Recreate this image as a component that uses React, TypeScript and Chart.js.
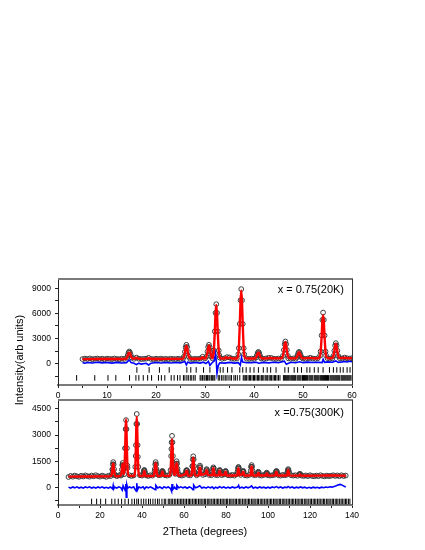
import React, { useEffect, useRef } from "react";
import { Chart, registerables } from "chart.js";

Chart.register(...registerables);

const FAMILY = "'Liberation Sans', Arial, Helvetica, sans-serif";

// ---------------- shared axis titles ----------------
const xTitle = "2Theta (degrees)";
const yTitle = "Intensity(arb units)";

type Pt = [number, number];

// ---------------- top panel : x = 0.75 (20 K) ----------------
const topLabel = "x = 0.75(20K)";
const topXRange = [0, 60];
const topYRange = [-2550, 10100];
const topXMajor = [0, 10, 20, 30, 40, 50, 60];
const topXMinor = [5, 15, 25, 35, 45, 55];
const topYMajor = [0, 3000, 6000, 9000];
const topYMinor = [-1500, 1500, 4500, 7500];

// observed intensities on a 0.5 deg grid starting at 5 deg (null = covered by peak points)
const topObsStart = 5;
const topObsStep = 0.5;
const topObsGrid: (number | null)[] = [
  540, 600, 560, 620, 530, 580, 610, 550, 590, 520,
  600, 570, 540, 610, 560, 530, 590, 560, null, null,
  null, 580, 720, 590, 550, 570, 600, 690, 560, 530,
  580, 550, 600, 540, 570, 530, 590, 560, 540, 580,
  550, 600, null, null, 570, 540, 580, 560, 610, 820,
  620, null, null, 640, null, null, 720, 580, 640, 780,
  740, 600, 570, 610, null, null, null, 590, 560, 600,
  570, null, null, 600, 570, 620, 700, 680, 590, 560,
  610, 580, null, null, 640, 590, 620, 580, null, null,
  610, 580, 620, 700, 610, 580, 640, null, null, null,
  660, 610, 640, null, null, 650, 620, 720, 640, 610,
  650,
];
// observed points across the Bragg peaks
const topObsPeaks: Pt[] = [
  [14.05, 730], [14.25, 1025], [14.4, 1315], [14.55, 1450], [14.7, 1310], [14.85, 1020], [15.05, 720],
  [25.7, 830], [25.9, 1415], [26.05, 1960], [26.2, 2250], [26.35, 1990], [26.5, 1400], [26.7, 830],
  [30.3, 848], [30.5, 1425], [30.65, 1986], [30.8, 2250], [30.95, 1970], [31.1, 1425], [31.3, 848],
  [31.7, 1010], [31.8, 1575], [32.0, 3850], [32.15, 6060], [32.3, 7100], [32.45, 6060], [32.6, 3850], [32.8, 1575], [32.9, 1010],
  [36.8, 1120], [36.9, 1845], [37.1, 4750], [37.25, 7570], [37.4, 8900], [37.55, 7570], [37.7, 4750], [37.9, 1845], [38.0, 1120],
  [40.4, 720], [40.6, 1000], [40.75, 1270], [40.9, 1400], [41.05, 1270], [41.2, 1000], [41.4, 720],
  [45.9, 925], [46.1, 1635], [46.25, 2325], [46.4, 2650], [46.55, 2325], [46.7, 1635], [46.9, 925],
  [48.7, 737], [48.9, 1010], [49.05, 1275], [49.2, 1400], [49.35, 1275], [49.5, 1010], [49.7, 737],
  [53.5, 985], [53.6, 1460], [53.8, 3370], [53.95, 5225], [54.1, 6100], [54.25, 5225], [54.4, 3370], [54.6, 1460], [54.7, 985],
  [56.2, 910], [56.4, 1545], [56.55, 2160], [56.7, 2450], [56.85, 2160], [57.0, 1545], [57.2, 910],
];
// calculated profile
const topCalc: Pt[] = [
  [5, 540], [6, 545], [8, 550], [10, 550], [12, 555], [13.5, 560],
  [14.05, 690], [14.25, 980], [14.4, 1230], [14.55, 1320], [14.7, 1230], [14.85, 980], [15.05, 690],
  [15.5, 580], [15.8, 640], [16.0, 700], [16.2, 640], [16.6, 570], [18.2, 580], [18.5, 680], [18.8, 580],
  [20, 560], [22, 565], [24, 570], [25.4, 575],
  [25.7, 800], [25.9, 1360], [26.05, 1900], [26.2, 2150], [26.35, 1900], [26.5, 1360], [26.7, 800],
  [27.2, 580], [29.2, 590], [29.5, 780], [29.8, 600], [30.1, 600],
  [30.3, 830], [30.5, 1380], [30.65, 1920], [30.8, 2170], [30.95, 1920], [31.1, 1380], [31.3, 830],
  [31.55, 650], [31.7, 1000], [31.8, 1560], [32.0, 3800], [32.15, 5950], [32.3, 7000], [32.45, 5950], [32.6, 3800], [32.8, 1560], [32.9, 1000],
  [33.2, 640], [34.0, 620], [34.3, 760], [34.6, 640], [35.2, 720], [35.5, 620], [36.5, 610],
  [36.8, 1110], [36.9, 1820], [37.1, 4700], [37.25, 7450], [37.4, 8750], [37.55, 7450], [37.7, 4700], [37.9, 1820], [38.0, 1110],
  [38.3, 640], [40.2, 620],
  [40.4, 720], [40.6, 980], [40.75, 1230], [40.9, 1330], [41.05, 1230], [41.2, 980], [41.4, 720],
  [41.8, 620], [43.0, 660], [43.3, 720], [43.6, 640], [45.6, 630],
  [45.9, 910], [46.1, 1600], [46.25, 2260], [46.4, 2580], [46.55, 2260], [46.7, 1600], [46.9, 910],
  [47.3, 640], [48.4, 630],
  [48.7, 730], [48.9, 990], [49.05, 1240], [49.2, 1360], [49.35, 1240], [49.5, 990], [49.7, 730],
  [50.1, 630], [51.6, 690], [52.2, 640], [53.2, 650],
  [53.5, 960], [53.6, 1400], [53.8, 3220], [53.95, 4990], [54.1, 5800], [54.25, 4990], [54.4, 3220], [54.6, 1400], [54.7, 960],
  [55.0, 680], [55.9, 650],
  [56.2, 900], [56.4, 1510], [56.55, 2100], [56.7, 2380], [56.85, 2100], [57.0, 1510], [57.2, 900],
  [57.6, 660], [58.6, 700], [59.2, 650], [60, 660],
];
// difference curve (obs - calc)
const topDiff: Pt[] = [
  [5, 100], [5.5, 60], [6, 140], [7, 80], [8, 160], [9, 90], [10, 130], [11, 60], [12, 150], [13, 80], [14, 120],
  [14.4, 380], [14.6, 420], [14.9, 120], [15.5, 40], [16, -120], [16.5, 60], [17, -60], [18, 40], [18.5, -150], [19, 60],
  [20, 130], [21, 70], [22, 140], [23, 80], [24, 130], [25, 90], [25.9, 250], [26.2, -150], [26.5, 200], [27, 60],
  [28, 130], [29, 70], [29.6, 180], [30.2, 20], [30.7, 280], [31, -200], [31.4, 80], [31.9, 350], [32.15, 1150],
  [32.3, 300], [32.45, -1150], [32.7, -250], [33, 100], [34, 60], [35, 150], [36, 60], [36.8, 120], [37.2, -200],
  [37.45, 750], [37.7, 180], [38.5, 100], [39.5, 120], [40.5, 160], [41, 50], [42, 150], [43, 90], [44, 170],
  [45, 110], [46.2, 300], [46.6, -80], [47.5, 160], [48.5, 110], [49.3, 230], [50, 120], [51, 180], [52, 130],
  [53, 170], [53.9, 120], [54.1, 520], [54.4, 150], [55, 210], [56, 170], [56.7, 330], [57.2, 150], [58, 210],
  [58.5, 260], [59, 200], [59.5, 280], [60, 230],
];
// Bragg reflection positions (two phases)
const topBraggA = [
  16.1, 18.6, 20.7, 22.7, 26.3, 27.1, 28.2, 29.7, 31.0, 32.4, 33.1, 33.7, 34.6, 35.5, 37.1, 37.7, 38.4,
  39.2, 40.0, 40.9, 41.9, 42.7, 43.4, 44.5, 46.3, 47.0, 48.2, 48.9, 49.7, 50.8, 51.4, 52.3, 53.1, 54.1,
  55.4, 56.2, 56.9, 57.6, 58.2, 59.0, 59.6,
];
const topBraggB = [
  3.8, 7.5, 10.2, 11.8, 14.6, 15.9, 16.5, 17.4, 18.3, 19.1, 20.5, 21.1, 21.8, 23.1, 23.7, 24.4, 24.9,
  25.6, 25.9, 26.3, 26.6, 27.0, 27.3, 27.7, 28.0, 29.0, 29.2, 29.5, 29.8, 30.0, 30.3, 30.5, 30.8, 31.0,
  31.3, 31.5, 31.8, 32.0, 32.7, 33.0, 33.4, 33.7, 34.1, 34.3, 34.7, 35.1, 35.4, 35.9, 36.2, 36.6, 37.1,
  37.8, 38.0, 38.3, 38.5, 38.8, 39.1, 39.3, 39.6, 39.9, 40.1, 40.4, 40.7, 40.9, 41.2, 41.5, 41.7, 42.0,
  42.3, 42.6, 42.8, 43.1, 43.4, 43.6, 43.9, 44.2, 44.4, 44.7, 45.0, 45.3, 46.0, 46.2, 46.4, 46.6, 46.8,
  47.0, 47.2, 47.5, 47.7, 47.9, 48.1, 48.3, 48.5, 48.8, 49.0, 49.2, 49.4, 49.6, 49.9, 50.1, 50.3, 50.5,
  50.7, 50.9, 51.2, 51.4, 51.6, 51.8, 52.0, 52.3, 52.5, 52.7, 52.9, 53.1, 53.3, 53.6, 53.8, 54.0, 54.2,
  54.4, 54.6, 54.8, 55.0, 55.2, 55.5, 55.7, 55.9, 56.1, 56.3, 56.5, 56.7, 56.9, 57.1, 57.3, 57.5, 57.8,
  58.0, 58.2, 58.4, 58.6, 58.8, 59.0, 59.2, 59.4, 59.6, 59.8,
];
const topBraggALevel = -750;
const topBraggBLevel = -1700;

// ---------------- bottom panel : x = 0.75 (300 K) ----------------
const botLabel = "x =0.75(300K)";
const botXRange = [0, 140];
const botYRange = [-1000, 5000];
const botXMajor = [0, 20, 40, 60, 80, 100, 120, 140];
const botXMinor = [10, 30, 50, 70, 90, 110, 130];
const botYMajor = [0, 1500, 3000, 4500];
const botYMinor = [-750, 750, 2250, 3750];

// observed intensities on a 1 deg grid starting at 5 deg
const botObsStart = 5;
const botObsStep = 1;
const botObsGrid: (number | null)[] = [
  600, 660, 620, 680, 640, 610, 670, 630, 690, 650, // 5-14
  620, 680, 640, 700, 650, 620, 680, 640, 610, 670, // 15-24
  650, 1000, 700, 650, 690, 680, 1250, 2245, 1250, 700, // 25-34
  660, 690, 1800, 1750, 700, 680, 980, 690, 660, 700, // 35-44
  680, 920, 920, 700, 720, 850, 700, 680, 720, 2200, // 45-54
  950, 940, 930, 700, 680, 720, 950, 720, 690, 1215, // 55-64
  890, 700, 776, 950, 720, 760, 986, 720, 700, 1150, // 65-74
  720, 700, 1000, 710, 740, 900, 700, 690, 720, 680, // 75-84
  760, 1150, 720, 900, 700, 680, 720, 1180, 720, 700, // 85-94
  775, 700, 680, 720, 750, 700, 680, 700, 720, 950, // 95-104
  700, 680, 720, 700, 730, 880, 700, 680, 700, 670, // 105-114
  740, 680, 660, 690, 650, 700, 660, 640, 680, 650, // 115-124
  700, 660, 640, 680, 650, 670, 700, 660, 690, 650, // 125-134
  700, 660, 680, // 135-137
];
const botObsPeaks: Pt[] = [
  [25.6, 760], [25.9, 1045], [26.1, 1320], [26.3, 1450], [26.5, 1320], [26.7, 1045], [27.0, 760],
  [30.1, 755], [30.4, 1020], [30.6, 1280], [30.8, 1400], [31.0, 1280], [31.2, 1020], [31.5, 755],
  [31.7, 1120], [32.0, 2245], [32.2, 3335], [32.4, 3850], [32.6, 3335], [32.8, 2245], [33.1, 1120],
  [36.8, 1175], [37.1, 2420], [37.3, 3630], [37.5, 4200], [37.7, 3630], [37.9, 2420], [38.2, 1175],
  [40.7, 820], [40.9, 930], [41.1, 1000], [41.3, 930], [41.5, 820],
  [45.8, 770], [46.1, 1050], [46.3, 1320], [46.5, 1450], [46.7, 1320], [46.9, 1050], [47.2, 770],
  [49.3, 800], [49.5, 900], [49.7, 950], [49.9, 900], [50.1, 800],
  [53.6, 995], [53.9, 1800], [54.1, 2580], [54.3, 2950], [54.5, 2580], [54.7, 1800], [55.0, 995],
  [55.8, 780], [56.1, 1075], [56.3, 1365], [56.5, 1500], [56.7, 1365], [56.9, 1075], [57.2, 780],
  [60.9, 830], [61.1, 950], [61.3, 1000], [61.5, 950], [61.7, 830],
  [63.7, 820], [64.0, 1215], [64.2, 1600], [64.4, 1780], [64.6, 1600], [64.8, 1215], [65.1, 820],
  [67.2, 950], [67.4, 1155], [67.6, 1250], [67.8, 1155],
  [70.4, 850], [70.6, 990], [70.8, 1050], [71.2, 850],
  [73.6, 900], [73.8, 1080], [74.2, 1080], [74.4, 900],
  [76.6, 850], [76.8, 960], [77.2, 960], [77.4, 850],
  [79.4, 800], [79.6, 900], [79.8, 950], [80.2, 800],
  [85.5, 900], [85.7, 1080], [85.9, 1170], [86.1, 1080], [86.3, 900],
  [87.8, 800], [88.0, 900], [88.2, 950], [88.4, 900],
  [91.8, 960], [92.0, 1180], [92.2, 1280], [92.4, 1180], [92.6, 960],
  [95.2, 850], [95.4, 900], [95.6, 850],
  [99.2, 800], [99.4, 850], [99.6, 800],
  [103.6, 820], [103.8, 900], [104.2, 900], [104.4, 820],
  [109.2, 850], [109.4, 980], [109.6, 1050], [109.8, 980],
  [115.0, 760], [115.2, 780], [115.4, 750],
];
const botCalc: Pt[] = [
  [5, 620], [10, 625], [15, 630], [20, 635], [25, 640],
  [25.6, 740], [25.9, 1000], [26.1, 1250], [26.3, 1380], [26.5, 1250], [26.7, 1000], [27.0, 740],
  [27.5, 645], [29.5, 650],
  [30.1, 740], [30.4, 990], [30.6, 1230], [30.8, 1350], [31.0, 1230], [31.2, 990], [31.5, 760],
  [31.7, 1130], [32.0, 2270], [32.2, 3380], [32.4, 3900], [32.6, 3380], [32.8, 2270], [33.1, 1130],
  [33.5, 680], [36.4, 660],
  [36.8, 1130], [37.1, 2350], [37.3, 3500], [37.5, 4050], [37.7, 3500], [37.9, 2350], [38.2, 1130],
  [38.6, 670], [40.6, 660], [40.9, 880], [41.1, 950], [41.3, 880], [41.6, 660], [45.6, 660],
  [45.8, 760], [46.1, 1025], [46.3, 1280], [46.5, 1400], [46.7, 1280], [46.9, 1025], [47.2, 760],
  [47.6, 660], [49.2, 665], [49.5, 860], [49.7, 920], [49.9, 860], [50.2, 665], [53.3, 670],
  [53.6, 960], [53.9, 1700], [54.1, 2420], [54.3, 2750], [54.5, 2420], [54.7, 1700], [55.0, 960],
  [55.4, 720],
  [55.8, 760], [56.1, 1030], [56.3, 1290], [56.5, 1400], [56.7, 1290], [56.9, 1030], [57.2, 760],
  [57.6, 670], [60.9, 800], [61.1, 920], [61.3, 960], [61.5, 920], [61.8, 680], [63.5, 680],
  [63.7, 800], [64.0, 1180], [64.2, 1540], [64.4, 1700], [64.6, 1540], [64.8, 1180], [65.1, 800],
  [65.5, 680], [67.1, 720], [67.4, 1080], [67.6, 1150], [67.8, 1080], [68.1, 720],
  [70.4, 820], [70.6, 950], [70.8, 1000], [71.0, 950], [71.3, 720],
  [73.5, 700], [73.8, 1030], [74.0, 1100], [74.2, 1030], [74.5, 700],
  [76.5, 700], [76.8, 920], [77.0, 970], [77.2, 920], [77.5, 700],
  [79.4, 760], [79.6, 860], [79.8, 900], [80.0, 860], [80.3, 690],
  [85.4, 700], [85.7, 1020], [85.9, 1100], [86.1, 1020], [86.4, 700],
  [87.8, 760], [88.0, 860], [88.2, 900], [88.4, 860], [88.7, 690],
  [91.7, 700], [92.0, 1120], [92.2, 1200], [92.4, 1120], [92.7, 700],
  [95.0, 690], [95.2, 800], [95.4, 850], [95.6, 800], [95.9, 690],
  [99.0, 690], [99.2, 780], [99.4, 810], [99.6, 780], [99.9, 680],
  [103.5, 690], [103.8, 860], [104.0, 900], [104.2, 860], [104.5, 690],
  [109.1, 690], [109.4, 930], [109.6, 1000], [109.8, 930], [110.1, 690],
  [114.8, 680], [115.2, 740], [115.6, 680], [120, 670], [125, 680], [131, 690], [135, 680], [137, 670],
];
const botDiff: Pt[] = [
  [5, 20], [6, -40], [7, 30], [8, -20], [9, 40], [10, -30], [11, 20], [12, -40], [13, 30], [14, -10],
  [15, 40], [16, -30], [17, 20], [18, -40], [19, 30], [20, -20], [21, 40], [22, -30], [23, 10], [24, -40],
  [25, 30], [26, -80], [26.3, 120], [26.6, -60], [27, 20], [28, -30], [29, 40], [30, -20], [30.6, -150],
  [31, 100], [31.5, -20], [32.0, -180], [32.3, 200], [32.5, -550], [32.8, 150], [33.2, -40], [34, 30],
  [35, -20], [36, 40], [37.2, -200], [37.5, 250], [37.8, -150], [38.5, 30], [39.5, -20], [40.5, 40],
  [41.2, -80], [42, 30], [43, -20], [44, 40], [45, -30], [46.3, -120], [46.6, 120], [47.5, -30],
  [48.5, 30], [49.7, -60], [50.5, 40], [51.5, -20], [52.5, 30], [53.5, -40], [54.1, -220], [54.3, 200],
  [54.6, -120], [55.5, 20], [56.3, -100], [56.6, 120], [57.5, -20], [58.5, 40], [59.5, -20], [60.5, 30],
  [61.5, -40], [62.5, 30], [63.5, -20], [64.3, -130], [64.6, 140], [65.5, -20], [66.5, 30], [67.5, 100],
  [68.5, -30], [69.5, 20], [70.5, -40], [71.5, 40], [72.5, -20], [73.5, 30], [74.2, -60], [75, 20],
  [76, -30], [77, 50], [78, -20], [79, 30], [80, -40], [81, 20], [82, -30], [83, 30], [84, -20],
  [85.5, 20], [86, 120], [86.5, -40], [87.5, 20], [88.5, -30], [89.5, 30], [90.5, -20], [91.5, 30],
  [92.2, 90], [93, -40], [94, 20], [95, -30], [96, 30], [97, -20], [98, 20], [99, -30], [100, 20],
  [101, -30], [102, 30], [103, -10], [104, 50], [105, -20], [106, 30], [107, -30], [108, 20], [109, -10],
  [109.6, 60], [110.5, -20], [111.5, 30], [112.5, -30], [113.5, 20], [114.5, -20], [115.5, 30],
  [116.5, -20], [117.5, 20], [118.5, -40], [119.5, 10], [120.5, -30], [121.5, 20], [122.5, -20],
  [123.5, 10], [124.5, -30], [125.5, 20], [126.5, -10], [127.5, 30], [128.5, 0], [129.5, 40],
  [130.5, 20], [131.5, 60], [132.5, 100], [133.5, 150], [134.5, 180], [135.5, 120], [136.5, 60], [137, 30],
];
const botBragg = [
  16.0, 18.4, 20.3, 22.7, 25.6, 27.1, 28.7, 30.3, 31.9, 33.5, 35.2, 36.4, 37.5, 38.3, 39.6, 40.8, 41.9,
  43.1, 44.0, 45.2, 46.3, 47.4, 48.2, 49.5, 50.6, 51.3, 52.5, 53.2, 53.9, 54.6, 55.4, 56.1, 56.9, 57.6,
  58.4, 59.0, 59.7, 60.5, 61.2, 62.0, 62.6, 63.3, 64.1, 64.8, 65.5, 66.1, 66.9, 67.6, 68.2, 69.0, 69.7,
  70.3, 71.1, 71.8, 72.4, 73.2, 73.9, 74.5, 75.3, 76.0, 76.6, 77.4, 78.1, 78.7, 79.5, 80.2, 80.8, 81.6,
  82.3, 82.9, 83.7, 84.4, 85.0, 85.8, 86.5, 87.1, 87.9, 88.6, 89.2, 90.0, 90.7, 91.3, 92.1, 92.8, 93.4,
  94.2, 94.9, 95.5, 96.3, 97.0, 97.6, 98.4, 99.1, 99.7, 100.5, 101.2, 101.8, 102.6, 103.3, 103.9, 104.7,
  105.4, 106.0, 106.8, 107.5, 108.1, 108.9, 109.6, 110.2, 111.0, 111.7, 112.3, 113.1, 113.8, 114.4,
  115.2, 115.9, 116.5, 117.3, 118.0, 118.6, 119.4, 120.1, 120.7, 121.5, 122.2, 122.8, 123.6, 124.3,
  124.9, 125.7, 126.4, 127.0, 127.8, 128.5, 129.1, 129.9, 130.6, 131.2, 132.0, 132.7, 133.3, 134.1,
  134.8, 135.4, 136.2, 136.9, 137.5, 138.3, 139.0,
];
const botBraggLevel = -800;

// ---------------- chart building ----------------
interface Spec {
  label: string;
  xRange: number[];
  yRange: number[];
  xMajor: number[];
  xMinor: number[];
  yMajor: number[];
  yMinor: number[];
  obsStart: number;
  obsStep: number;
  obsGrid: (number | null)[];
  obsPeaks: Pt[];
  calc: Pt[];
  diff: Pt[];
  bragg: { pos: number[]; level: number }[];
}

const topSpec: Spec = {
  label: topLabel, xRange: topXRange, yRange: topYRange,
  xMajor: topXMajor, xMinor: topXMinor, yMajor: topYMajor, yMinor: topYMinor,
  obsStart: topObsStart, obsStep: topObsStep, obsGrid: topObsGrid, obsPeaks: topObsPeaks,
  calc: topCalc, diff: topDiff,
  bragg: [{ pos: topBraggA, level: topBraggALevel }, { pos: topBraggB, level: topBraggBLevel }],
};
const botSpec: Spec = {
  label: botLabel, xRange: botXRange, yRange: botYRange,
  xMajor: botXMajor, xMinor: botXMinor, yMajor: botYMajor, yMinor: botYMinor,
  obsStart: botObsStart, obsStep: botObsStep, obsGrid: botObsGrid, obsPeaks: botObsPeaks,
  calc: botCalc, diff: botDiff,
  bragg: [{ pos: botBragg, level: botBraggLevel }],
};

interface Layout {
  padTop: number;
  xAxisH: number;
  labelDy: number;
  titles: boolean;
}

function makeChart(canvas: HTMLCanvasElement, s: Spec, lay: Layout) {
  const obs: { x: number; y: number }[] = [];
  s.obsGrid.forEach((v, i) => {
    if (v !== null) obs.push({ x: s.obsStart + i * s.obsStep, y: v });
  });
  s.obsPeaks.forEach(([x, y]) => obs.push({ x, y }));
  const toXY = (a: Pt[]) => a.map(([x, y]) => ({ x, y }));

  const datasets: any[] = [
    {
      data: toXY(s.calc), showLine: true, borderColor: "#ff0000", borderWidth: 2.4,
      pointRadius: 0, cubicInterpolationMode: "monotone", order: 0,
    },
    {
      data: toXY(s.diff), showLine: true, borderColor: "#0000ff", borderWidth: 1.6,
      pointRadius: 0, order: 1,
    },
    {
      data: obs, showLine: false, pointRadius: 2.4, pointBorderWidth: 1,
      pointBorderColor: "#3c3c3c", pointBackgroundColor: "rgba(0,0,0,0)", order: 2,
    },
    ...s.bragg.map((b) => ({
      data: b.pos.map((x) => ({ x, y: b.level })), showLine: false, pointStyle: "line",
      pointRotation: 90, pointRadius: 2.8, pointBorderWidth: 1, pointBorderColor: "#000", order: 3,
    })),
  ];

  const tickFont = { family: FAMILY, size: 8.5 };
  const xTicks = [...s.xMajor, ...s.xMinor].sort((a, b) => a - b);
  const yTicks = [...s.yMajor, ...s.yMinor].sort((a, b) => a - b);

  const framePlugin = {
    id: "frame",
    afterDraw(chart: any) {
      const { ctx, chartArea: a } = chart;
      ctx.save();
      ctx.strokeStyle = "#7a7a7a";
      ctx.lineWidth = 2;
      ctx.beginPath();
      ctx.moveTo(a.left, a.top);
      ctx.lineTo(a.right + 1, a.top);
      ctx.stroke();
      ctx.strokeStyle = "#333";
      ctx.lineWidth = 1;
      ctx.beginPath();
      ctx.moveTo(a.right + 0.5, a.top);
      ctx.lineTo(a.right + 0.5, a.bottom);
      ctx.stroke();
      ctx.font = `11px ${FAMILY}`;
      ctx.fillStyle = "#000";
      ctx.textAlign = "right";
      ctx.textBaseline = "middle";
      ctx.fillText(s.label, a.right - 8, a.top + lay.labelDy);
      if (lay.titles) {
        ctx.textAlign = "center";
        ctx.fillText(xTitle, (a.left + a.right) / 2, 262);
        ctx.translate(20, 90);
        ctx.rotate(-Math.PI / 2);
        ctx.fillText(yTitle, 0, 0);
      }
      ctx.restore();
    },
  };

  return new Chart(canvas, {
    type: "scatter",
    data: { datasets },
    options: {
      responsive: false,
      animation: false,
      devicePixelRatio: 1,
      events: [],
      layout: { padding: { top: lay.padTop, right: 73, left: 0, bottom: 0 } },
      plugins: { legend: { display: false }, tooltip: { enabled: false } },
      scales: {
        x: {
          type: "linear",
          position: "bottom",
          min: s.xRange[0],
          max: s.xRange[1],
          afterBuildTicks: (sc: any) => {
            sc.ticks = xTicks.map((v) => ({ value: v }));
          },
          afterFit: (sc: any) => {
            sc.height = lay.xAxisH;
          },
          ticks: {
            autoSkip: false, maxRotation: 0, minRotation: 0, font: tickFont, color: "#000", padding: 3,
            callback: (v: any) => (s.xMajor.includes(v) ? String(v) : ""),
          },
          grid: { drawOnChartArea: false, drawTicks: true, tickLength: 3, tickColor: "#222", tickWidth: 1 },
          border: { display: true, color: "#7a7a7a", width: 2 },
        },
        y: {
          type: "linear",
          position: "left",
          min: s.yRange[0],
          max: s.yRange[1],
          afterBuildTicks: (sc: any) => {
            sc.ticks = yTicks.map((v) => ({ value: v }));
          },
          afterFit: (sc: any) => {
            sc.width = 58;
          },
          ticks: {
            autoSkip: false, font: tickFont, color: "#000", padding: 4,
            callback: (v: any) => (s.yMajor.includes(v) ? String(v) : ""),
          },
          grid: { drawOnChartArea: false, drawTicks: true, tickLength: 3, tickColor: "#222", tickWidth: 1 },
          border: { display: true, color: "#222", width: 1 },
        },
      },
    } as any,
    plugins: [framePlugin],
  });
}

export default function App() {
  const topRef = useRef<HTMLCanvasElement>(null);
  const botRef = useRef<HTMLCanvasElement>(null);

  useEffect(() => {
    const c2 = makeChart(botRef.current!, botSpec, { padTop: 130, xAxisH: 45, labelDy: 13, titles: true });
    const c1 = makeChart(topRef.current!, topSpec, { padTop: 9, xAxisH: 20, labelDy: 11, titles: false });
    return () => {
      c1.destroy();
      c2.destroy();
    };
  }, []);

  return (
    <div style={{ position: "absolute", left: 0, top: 0, width: 425, height: 550, background: "#fff" }}>
      <canvas
        ref={botRef}
        width={425}
        height={280}
        style={{ position: "absolute", left: 0, top: 270, width: 425, height: 280 }}
      />
      <canvas
        ref={topRef}
        width={425}
        height={135}
        style={{ position: "absolute", left: 0, top: 270, width: 425, height: 135 }}
      />
    </div>
  );
}
